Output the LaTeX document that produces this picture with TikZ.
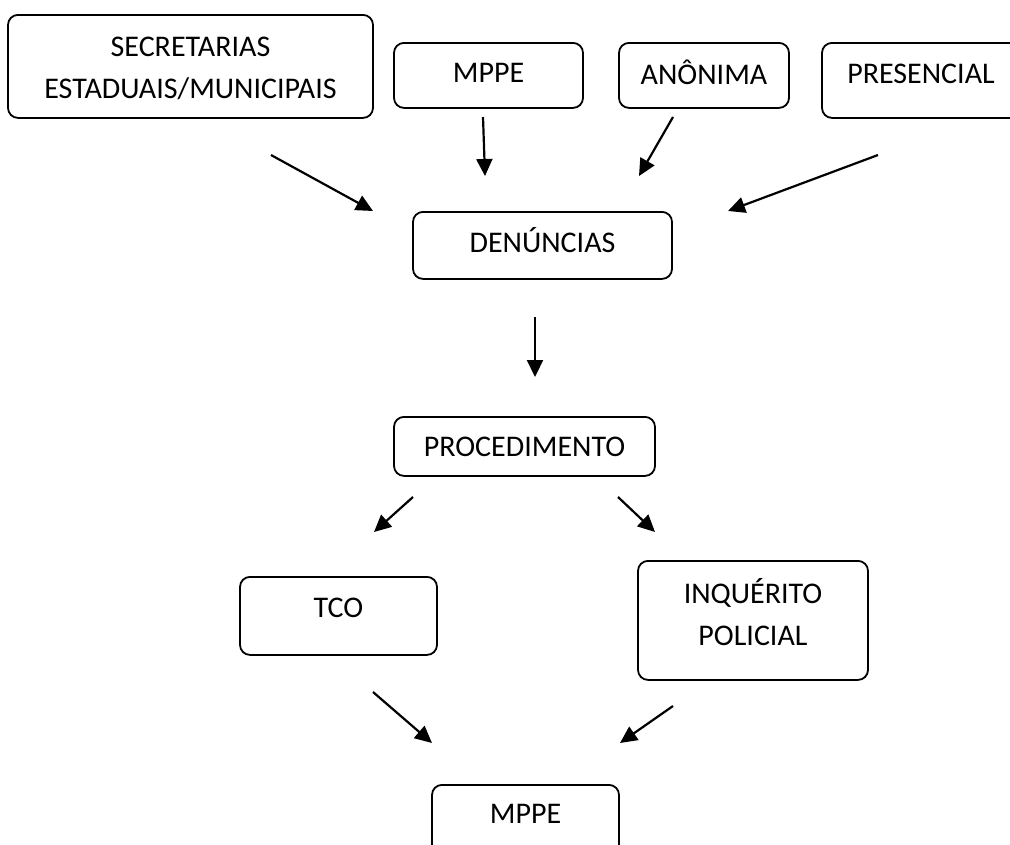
\documentclass[tikz,border=0pt]{standalone}
\usepackage{fontspec}
\setmainfont{Carlito}
\usetikzlibrary{arrows.meta}
\tikzset{
  box/.style={draw=black, line width=1.8pt, rounded corners=10pt, inner sep=0pt,
    anchor=north, font=\fontsize{30}{41.5}\selectfont},
  conn/.style={line width=2.2pt, -{Triangle[length=17pt,width=16pt]}}
}
\begin{document}
\begin{tikzpicture}[x=1pt,y=-1pt]
\useasboundingbox (0,0) rectangle (1010,844);
\clip (0,0) rectangle (1010,844);
% boxes
\node[box, minimum width=365pt, text height=42pt, text depth=61pt] (sec) at (190.5,14)
  {\parbox[t]{360pt}{\centering SECRETARIAS\\ESTADUAIS/MUNICIPAIS}};
\node[box, minimum width=189pt, text height=40pt, text depth=25pt] (mppe1) at (488.5,42) {MPPE};
\node[box, minimum width=170pt, text height=42pt, text depth=23pt] (anon) at (704,42) {ANÔNIMA};
\node[box, minimum width=198pt, text height=41pt, text depth=34pt] (pres) at (921,42) {PRESENCIAL};
\node[box, minimum width=259pt, text height=41pt, text depth=26pt] (den) at (542.5,211) {DENÚNCIAS};
\node[box, minimum width=261pt, text height=40pt, text depth=19pt] (proc) at (524.5,416) {PROCEDIMENTO};
\node[box, minimum width=197pt, text height=41pt, text depth=37pt] (tco) at (338.5,576) {TCO};
\node[box, minimum width=230pt, text height=43pt, text depth=76pt] (inq) at (753,560)
  {\parbox[t]{225pt}{\centering INQUÉRITO\\POLICIAL}};
\node[box, minimum width=187pt, text height=39pt, text depth=41pt] (mppe2) at (525.5,784) {MPPE};
% arrow end points
\coordinate (a1s) at (271,155); \coordinate (a1e) at (373,211);
\coordinate (a2s) at (483,117); \coordinate (a2e) at (485,176);
\coordinate (a3s) at (673,117); \coordinate (a3e) at (639,176);
\coordinate (a4s) at (878,155); \coordinate (a4e) at (728,211);
\coordinate (a5s) at (535,317); \coordinate (a5e) at (535,377);
\coordinate (a6s) at (413,497); \coordinate (a6e) at (374,532);
\coordinate (a7s) at (618,497); \coordinate (a7e) at (655,532);
\coordinate (a8s) at (373,692); \coordinate (a8e) at (432,743);
\coordinate (a9s) at (673,706); \coordinate (a9e) at (620,743);
\foreach \i in {1,...,9} \draw[conn] (a\i s) -- (a\i e);
\end{tikzpicture}
\end{document}
